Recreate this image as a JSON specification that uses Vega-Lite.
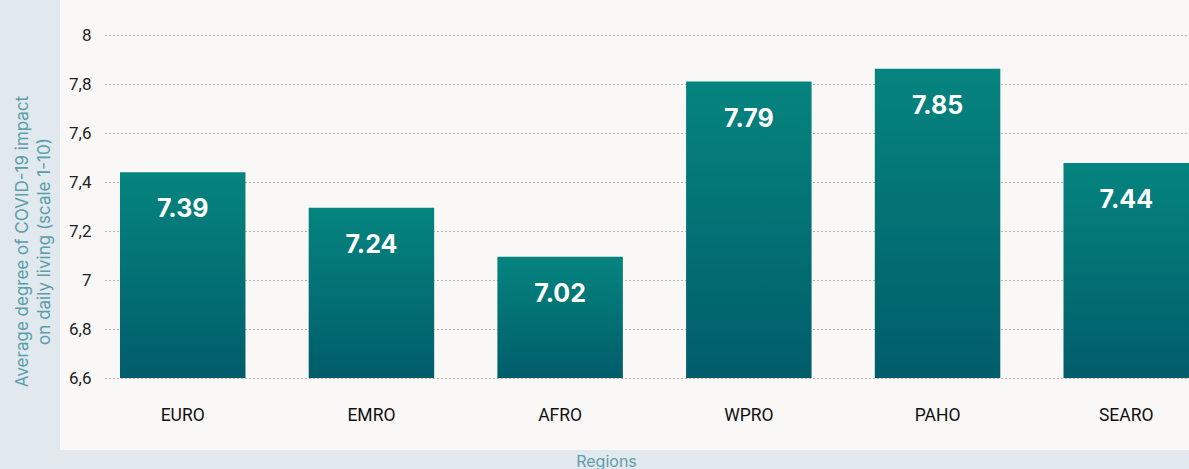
{
  "$schema": "https://vega.github.io/schema/vega-lite/v6.json",
  "width": 1084,
  "height": 405,
  "autosize": {"type": "none"},
  "padding": {"left": 105, "top": 0, "right": 0, "bottom": 64},
  "background": "#e1e8ee",
  "view": {"fill": "#f9f8f6", "stroke": "#f9f8f6", "strokeWidth": 90},
  "config": {"font": "Roboto"},
  "data": {
    "values": [
      {"region": "EURO", "value": 7.44, "label": "7.39"},
      {"region": "EMRO", "value": 7.295, "label": "7.24"},
      {"region": "AFRO", "value": 7.095, "label": "7.02"},
      {"region": "WPRO", "value": 7.81, "label": "7.79"},
      {"region": "PAHO", "value": 7.862, "label": "7.85"},
      {"region": "SEARO", "value": 7.478, "label": "7.44"}
    ]
  },
  "encoding": {
    "x": {
      "field": "region",
      "type": "nominal",
      "sort": null,
      "scale": {"paddingInner": 0.335, "paddingOuter": 0.0397, "align": 1},
      "axis": {
        "orient": "bottom",
        "domain": false,
        "ticks": false,
        "tickSize": 0,
        "labelAngle": 0,
        "labelPadding": 1,
        "labelFont": "Roboto",
        "labelFontSize": 17.5,
        "labelColor": "#111111",
        "title": "Regions",
        "titleFont": "Inter",
        "titleFontSize": 16,
        "titleFontWeight": "normal",
        "titleColor": "#5f9eaa",
        "titleX": 501,
        "titleY": 56,
        "titleAlign": "center",
        "titleBaseline": "middle"
      }
    },
    "y": {
      "field": "value",
      "type": "quantitative",
      "scale": {"domain": [6.4898, 8.1429], "nice": false, "zero": false},
      "axis": {
        "values": [6.6, 6.8, 7, 7.2, 7.4, 7.6, 7.8, 8],
        "labelExpr": "replace(format(datum.value, '.1~f'), '.', ',')",
        "grid": true,
        "gridColor": "#6f6f6f",
        "gridDash": [1, 3],
        "gridWidth": 1,
        "ticks": false,
        "tickSize": 0,
        "domain": false,
        "labelPadding": 14,
        "labelFont": "Roboto",
        "labelFontSize": 17,
        "labelColor": "#222222",
        "title": ["Average degree of COVID-19 impact", "on daily living (scale 1-10)"],
        "titleFont": "Inter",
        "titleFontSize": 17,
        "titleFontWeight": "normal",
        "titleColor": "#5a9ea9",
        "titleAngle": -90,
        "titleX": -83,
        "titleY": 241,
        "titleAlign": "center",
        "titleBaseline": "middle",
        "titleLineHeight": 22
      }
    }
  },
  "layer": [
    {
      "mark": {
        "type": "bar",
        "color": {
          "gradient": "linear",
          "x1": 0, "y1": 0, "x2": 0, "y2": 1,
          "stops": [
            {"offset": 0, "color": "#05847f"},
            {"offset": 1, "color": "#005d6a"}
          ]
        }
      },
      "encoding": {"y2": {"datum": 6.6}}
    },
    {
      "mark": {
        "type": "text",
        "color": "white",
        "font": "Inter",
        "fontWeight": "bold",
        "fontSize": 25,
        "baseline": "middle",
        "align": "center",
        "dy": 37
      },
      "encoding": {"text": {"field": "label"}}
    }
  ]
}
